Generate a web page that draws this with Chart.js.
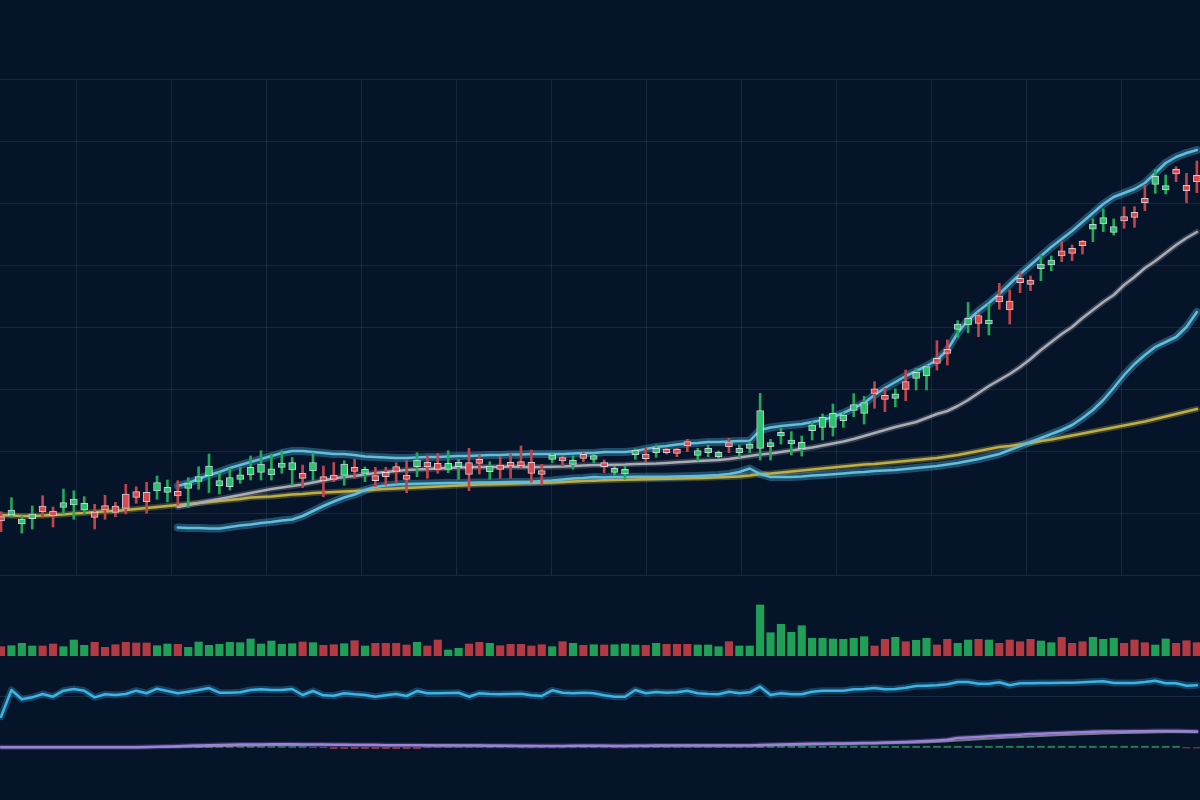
<!DOCTYPE html>
<html><head><meta charset="utf-8">
<script src="https://cdn.jsdelivr.net/npm/chart.js@4/dist/chart.umd.min.js"></script>
<style>html,body{margin:0;padding:0;background:#061429;}canvas{display:block;}</style>
</head><body>
<canvas id="c" width="1200" height="800"></canvas>
<script>
// ---------- DATA ----------
const openP = [
28.33,28.50,27.60,28.13,29.40,28.90,29.27,29.50,29.00,28.80,
29.43,29.40,30.60,30.83,30.77,30.90,30.77,30.87,31.15,31.85,
32.43,31.43,31.33,32.07,32.50,32.77,32.50,33.27,33.00,32.67,
32.90,32.33,32.50,32.47,33.27,32.67,32.43,32.77,33.33,32.50,
33.33,33.77,33.67,33.07,33.33,33.73,34.07,32.83,33.50,33.77,
33.83,33.77,32.93,34.07,34.23,33.57,34.57,34.07,33.73,32.77,
32.60,34.53,34.60,34.73,35.07,35.07,35.83,34.47,34.73,34.33,
35.73,34.73,35.17,35.17,35.33,36.40,35.60,35.10,36.93,37.27,
37.27,37.93,38.97,38.67,41.12,40.47,40.17,41.83,42.17,42.40,
44.17,45.07,47.07,47.50,48.45,47.60,50.40,49.90,52.17,52.00,
53.13,53.50,54.92,55.17,55.90,57.08,57.60,56.77,58.33,58.77,
60.17,61.57,61.00,63.07,61.47,62.47];
const highP = [
28.83,30.23,28.40,29.40,30.43,29.30,31.10,30.93,30.33,29.57,
30.47,29.77,31.57,31.33,31.77,32.40,32.00,31.93,32.23,33.33,
34.60,32.73,33.17,33.27,34.40,34.93,34.60,34.93,34.25,33.50,
34.75,33.40,33.75,33.93,34.07,33.30,33.27,33.27,33.73,33.93,
34.73,34.40,34.67,34.93,34.07,35.17,34.50,33.83,34.33,34.60,
35.40,35.00,33.57,34.73,34.40,34.40,34.73,34.60,34.00,33.40,
33.40,35.13,35.17,35.50,35.17,35.17,36.07,35.17,35.50,34.90,
36.17,35.50,35.83,40.67,36.07,37.17,36.83,36.40,37.83,38.60,
39.60,38.73,40.63,40.37,41.83,41.17,41.12,43.00,43.17,43.50,
45.93,46.00,47.93,49.75,48.73,49.60,51.67,51.00,52.83,52.40,
54.50,54.40,55.83,55.50,55.95,58.13,59.10,58.10,59.33,59.33,
61.50,63.03,62.50,63.33,62.67,63.90];
const lowP = [
26.83,28.27,26.70,27.10,28.27,27.30,28.60,28.07,28.60,27.10,
28.07,28.33,28.60,29.67,28.67,30.07,29.80,29.47,29.27,31.07,
30.75,30.60,31.00,31.67,32.00,32.00,32.00,32.67,31.48,31.24,
31.97,30.33,31.83,31.47,32.17,31.83,31.33,31.50,31.67,30.73,
32.33,32.17,32.67,32.73,32.07,30.93,32.60,32.07,32.17,32.17,
33.17,31.77,31.50,33.73,33.40,33.07,33.83,33.73,32.73,32.50,
32.07,34.07,33.83,34.27,34.60,34.33,34.83,33.93,34.33,34.17,
34.73,34.27,34.73,34.00,34.00,35.60,34.50,34.40,36.00,36.00,
36.40,37.27,38.33,37.60,39.17,38.83,39.33,39.93,41.00,41.00,
43.00,43.50,46.27,46.73,46.33,46.50,49.07,47.60,50.73,50.93,
51.93,52.93,53.83,53.93,54.60,55.83,56.83,56.50,57.17,57.27,
58.93,60.67,60.60,61.83,59.73,60.73];
const closeP = [
27.90,29.00,28.10,28.60,28.83,28.40,29.73,30.10,29.67,28.27,
29.00,28.77,29.17,30.27,29.83,31.73,31.27,30.40,31.63,32.33,
33.40,31.93,32.23,32.52,33.27,33.60,33.12,33.70,33.73,32.17,
33.75,31.92,32.07,33.58,32.87,33.07,31.93,32.33,32.87,32.07,
34.00,33.33,33.07,33.67,33.77,32.57,33.67,33.40,33.07,33.40,
33.43,32.67,32.57,34.50,33.90,34.00,34.17,34.43,33.33,33.17,
33.07,35.00,34.13,35.17,34.73,34.67,35.40,34.93,35.17,34.77,
35.33,35.17,35.60,38.93,35.73,36.77,36.00,35.77,37.50,38.27,
38.67,38.50,39.55,39.75,40.67,40.07,40.62,41.07,42.77,43.33,
43.67,44.67,47.60,48.17,47.67,48.00,49.80,49.00,51.73,51.57,
53.60,54.00,54.42,54.67,55.43,57.57,58.23,57.33,57.90,58.27,
59.73,62.37,61.43,62.60,60.93,61.83];

const bbUpper = [
null,null,null,null,null,null,null,null,null,null,null,null,null,null,null,null,null,
31.4,31.7,32.1,32.5,32.8,33.2,33.5,33.8,34.1,34.4,34.7,34.9,34.9,34.8,34.7,34.6,34.6,34.5,34.35,34.3,
34.25,34.2,34.2,34.25,34.3,34.3,34.35,34.4,34.4,34.45,34.5,34.5,34.55,34.55,34.6,34.6,34.6,34.6,34.65,34.7,
34.7,34.8,34.8,34.8,34.9,35.1,35.3,35.4,35.55,35.65,35.7,35.8,35.8,35.85,35.9,35.9,
37.0,37.25,37.4,37.5,37.6,37.8,38.0,38.3,38.7,39.2,39.7,40.5,41.2,41.8,42.4,42.9,43.4,44.0,45.0,
46.7,48.0,48.9,49.7,50.6,51.6,52.6,53.5,54.4,55.3,56.1,56.9,57.8,58.7,59.6,60.3,60.7,61.1,61.7,
62.7,63.7,64.3,64.7,65.0];
const bbMiddle = [
null,null,null,null,null,null,null,null,null,null,null,null,null,null,null,null,null,
29.3,29.5,29.7,29.9,30.1,30.3,30.5,30.7,30.9,31.1,31.25,31.4,31.55,31.75,31.95,32.15,32.3,32.4,32.55,32.7,
32.8,32.9,33.0,33.05,33.1,33.15,33.2,33.25,33.27,33.3,33.3,33.33,33.33,33.3,33.3,33.3,33.33,33.35,33.4,33.45,
33.5,33.5,33.53,33.55,33.6,33.63,33.65,33.7,33.77,33.83,33.9,33.95,34.0,34.1,34.25,
34.4,34.55,34.65,34.8,34.95,35.1,35.25,35.45,35.65,35.85,36.1,36.4,36.7,37.0,37.3,
37.55,37.8,38.2,38.6,38.9,39.4,40.0,40.7,41.4,42.0,42.6,43.3,44.1,45.0,45.8,
46.6,47.3,48.2,49.0,49.8,50.5,51.5,52.3,53.2,53.9,54.7,55.5,56.2,56.8];
const bbLower = [
null,null,null,null,null,null,null,null,null,null,null,null,null,null,null,null,null,
27.25,27.2,27.2,27.15,27.15,27.3,27.45,27.55,27.7,27.8,27.95,28.05,28.4,28.9,29.4,29.85,30.25,30.55,31.0,31.3,
31.45,31.55,31.6,31.63,31.65,31.67,31.7,31.7,31.73,31.75,31.75,31.77,31.8,31.8,31.83,31.9,31.95,32.05,32.15,32.2,
32.3,32.25,32.3,32.3,32.33,32.33,32.33,32.33,32.35,32.37,32.4,32.45,32.5,32.6,32.8,
33.15,32.6,32.3,32.3,32.3,32.35,32.45,32.5,32.57,32.65,32.75,32.8,32.9,32.95,33.0,
33.1,33.2,33.3,33.4,33.55,33.7,33.9,34.1,34.35,34.6,35.0,35.4,35.8,36.2,36.6,
37.0,37.5,38.2,39.0,40.0,41.2,42.5,43.6,44.5,45.3,45.8,46.3,47.3,48.8];
const maLong = [
28.5,28.45,28.4,28.4,28.45,28.5,28.55,28.65,28.7,28.8,
28.85,28.9,29.0,29.1,29.2,29.3,29.4,29.5,29.6,29.7,
29.8,29.9,30.0,30.1,30.25,30.3,30.35,30.45,30.55,30.6,
30.7,30.75,30.8,30.85,30.9,30.95,31.05,31.1,31.15,31.2,
31.25,31.3,31.35,31.4,31.45,31.5,31.55,31.57,31.6,31.63,
31.67,31.7,31.72,31.75,31.8,31.85,31.9,31.93,31.97,32.0,
32.03,32.05,32.08,32.1,32.13,32.15,32.18,32.2,32.23,32.27,
32.3,32.35,32.45,32.6,32.65,32.75,32.85,32.95,33.05,33.15,
33.25,33.35,33.45,33.55,33.6,33.7,33.8,33.9,34.0,34.1,
34.2,34.35,34.5,34.7,34.9,35.1,35.3,35.4,35.55,35.7,
35.9,36.05,36.25,36.45,36.65,36.85,37.05,37.25,37.45,37.65,
37.85,38.1,38.35,38.6,38.85,39.1];

const volume = [
180,200,248,194,194,234,180,314,208,268,
168,220,268,254,254,200,234,228,168,274,
208,228,268,260,334,234,294,228,240,274,
260,208,220,240,300,194,248,248,248,214,
268,194,314,114,148,234,268,248,200,228,
228,194,220,180,280,248,208,220,214,220,
234,214,208,248,228,228,228,214,214,180,
280,194,194,1014,460,628,468,600,348,348,
334,328,348,380,194,328,368,280,308,348,
214,328,248,314,328,314,248,314,280,328,
294,260,368,248,280,368,328,348,248,314,
260,214,334,248,300,260];

const rsi = [
20.4,58.6,45.3,48.1,52.9,49.0,57.6,60.0,57.6,48.1,
52.4,51.4,52.9,57.6,53.9,60.4,57.1,53.9,56.1,58.6,
61.4,54.7,54.7,55.3,58.6,59.6,58.6,58.6,60.0,51.4,
57.1,51.0,50.4,53.9,52.4,51.4,49.0,51.0,52.9,50.0,
57.1,53.9,53.9,54.3,54.7,49.0,53.9,52.9,52.4,52.9,
53.3,51.0,50.0,58.1,54.7,53.9,54.7,53.9,51.0,49.0,
49.0,58.6,53.9,55.7,54.7,55.3,57.6,53.9,52.9,52.4,
56.1,53.9,55.3,63.3,51.4,53.9,52.4,52.4,56.1,57.6,
57.6,57.6,59.6,60.0,61.4,59.6,60.0,61.9,64.3,64.7,
65.3,66.7,70.0,70.0,67.6,67.6,69.6,65.3,68.1,68.1,
68.6,68.6,69.0,69.0,69.6,70.4,71.0,68.6,68.6,68.6,
70.0,71.9,68.1,68.1,64.7,65.3];
const rsiMidline = [50];

const macd = [
0.02,0.02,0.02,0.02,0.02,0.02,0.02,0.02,0.02,0.02,
0.02,0.02,0.02,0.03,0.05,0.07,0.10,0.13,0.17,0.20,
0.23,0.25,0.27,0.29,0.30,0.31,0.32,0.32,0.32,0.31,
0.30,0.29,0.28,0.27,0.26,0.25,0.24,0.23,0.23,0.22,
0.22,0.21,0.21,0.20,0.20,0.19,0.19,0.18,0.18,0.17,
0.16,0.15,0.14,0.15,0.16,0.17,0.18,0.18,0.17,0.16,
0.16,0.17,0.18,0.19,0.20,0.20,0.21,0.20,0.19,0.19,
0.20,0.20,0.21,0.25,0.27,0.29,0.32,0.35,0.37,0.38,
0.40,0.41,0.42,0.44,0.46,0.49,0.52,0.56,0.60,0.64,
0.70,0.78,0.95,1.00,1.05,1.12,1.18,1.23,1.28,1.34,
1.38,1.42,1.46,1.50,1.53,1.57,1.59,1.60,1.61,1.62,
1.63,1.64,1.65,1.64,1.62,1.59];
const macdSignal = [
0.02,0.02,0.02,0.02,0.02,0.02,0.02,0.02,0.02,0.02,
0.02,0.02,0.02,0.02,0.03,0.04,0.05,0.07,0.09,0.11,
0.13,0.15,0.17,0.19,0.21,0.22,0.24,0.25,0.26,0.27,
0.27,0.28,0.28,0.28,0.28,0.27,0.27,0.26,0.26,0.25,
0.25,0.24,0.23,0.22,0.21,0.21,0.20,0.20,0.19,0.18,
0.18,0.17,0.16,0.16,0.16,0.16,0.17,0.17,0.17,0.17,
0.17,0.17,0.17,0.18,0.18,0.19,0.19,0.20,0.20,0.19,
0.19,0.19,0.20,0.21,0.22,0.24,0.26,0.28,0.30,0.32,
0.34,0.36,0.37,0.39,0.40,0.42,0.44,0.47,0.50,0.53,
0.57,0.62,0.70,0.76,0.82,0.88,0.94,1.00,1.05,1.10,
1.15,1.20,1.24,1.28,1.32,1.36,1.40,1.43,1.46,1.48,
1.50,1.52,1.54,1.55,1.56,1.56];
const macdHist = [
0,0,0,0,0,0,0,0,0,0,
0,0,0,0,0,0,0,0,0,0.10,
0.10,0.10,0.10,0.10,0.10,0.10,0.10,0.10,0.10,0.10,
0.03,0.03,-0.12,-0.12,-0.12,-0.12,-0.12,-0.12,-0.12,-0.12,
-0.12,0,0,0,0,0,0,0,0,0,
0,0,0,0,0,0,0,0,0,0,
0,0,0,0,0,0,0,0,0,0,
0,0,0,0.13,0.13,0.13,0.13,0.13,0.13,0.13,
0.13,0.13,0.13,0.13,0.13,0.13,0.13,0.13,0.13,0.13,
0.13,0.13,0.13,0.13,0.13,0.13,0.13,0.13,0.13,0.13,
0.13,0.13,0.13,0.13,0.13,0.13,0.13,0.13,0.13,0.13,
0.13,0.13,0.13,0.13,-0.05,-0.05];

// grid positions (price levels and bar-index positions of the vertical grid)
const priceGrid = [22.5, 28.6875, 34.875, 41.0625, 47.25, 53.4375, 59.625, 65.8125, 72];
const timeGrid = [7.2, 16.35, 25.5, 34.6, 43.75, 52.9, 62.0, 71.15, 80.3, 89.4, 98.6, 107.75];

// ---------- STYLE / LAYOUT ----------
const H = 800;
function axisRange(v1, px1, v2, px2) {
  const k = (px2 - px1) / (v2 - v1);
  const a = v1 + (H - px1) / k, b = v1 + (0 - px1) / k;
  return { min: Math.min(a, b), max: Math.max(a, b) };
}
const volRange = axisRange(0, 655.7, 1000, 605.7);
const rsiRange = axisRange(50, 696, 100, 661);
const macdRange = axisRange(0, 747.5, 1, 737.5);

const gridColor = 'rgba(60,85,120,0.30)';
const UP_BODY = '#2bc46e', DN_BODY = '#dc4a50';
const UP_WICK = '#22a85b', DN_WICK = '#c2444b';
const UP_VOL = '#20a057', DN_VOL = '#b33a42';

const idx = openP.map((_, i) => i);
const isUp = idx.map(i => closeP[i] >= openP[i]);
const pts = arr => arr.map((v, i) => ({ x: i, y: v }));

function line(arr, axis, color, width, order) {
  return { type: 'line', data: pts(arr), yAxisID: axis, borderColor: color, borderWidth: width,
    pointRadius: 0, tension: 0, fill: false, order: order, spanGaps: false,
    borderJoinStyle: 'round', borderCapStyle: 'round' };
}

const datasets = [
  { type: 'bar', data: idx.map(i => ({ x: i, y: [openP[i], closeP[i]] })), yAxisID: 'yP',
    backgroundColor: idx.map(i => isUp[i] ? UP_BODY : DN_BODY),
    borderColor: 'rgba(232,232,238,0.85)', borderWidth: 1, borderSkipped: false,
    barThickness: 7, grouped: false, order: 0 },
  { type: 'bar', data: idx.map(i => ({ x: i, y: [lowP[i], highP[i]] })), yAxisID: 'yP',
    backgroundColor: idx.map(i => isUp[i] ? UP_WICK : DN_WICK),
    borderWidth: 0, barThickness: 2, grouped: false, order: 1 },
  line(bbUpper, 'yP', '#63bddb', 2.5, 2),
  line(bbUpper, 'yP', 'rgba(70,165,205,0.40)', 8, 5),
  line(bbLower, 'yP', '#63bddb', 2.5, 2),
  line(bbLower, 'yP', 'rgba(70,165,205,0.40)', 8, 5),
  line(bbMiddle, 'yP', '#aaacb4', 2.5, 3),
  line(bbMiddle, 'yP', 'rgba(170,172,182,0.25)', 6, 6),
  line(maLong, 'yP', '#bfae48', 2.5, 4),
  line(maLong, 'yP', 'rgba(190,175,70,0.30)', 6, 7),
  { type: 'bar', data: pts(volume), yAxisID: 'yV',
    backgroundColor: idx.map(i => isUp[i] ? UP_VOL : DN_VOL),
    borderWidth: 0, barThickness: 7.5, grouped: false, order: 8 },
  line(rsi, 'yR', '#3db5e2', 2.5, 2),
  line(rsi, 'yR', 'rgba(50,150,205,0.35)', 7, 5),
  { type: 'bar', data: pts(macdHist), yAxisID: 'yM',
    backgroundColor: macdHist.map(v => v >= 0 ? 'rgba(46,160,100,0.75)' : 'rgba(190,70,80,0.70)'),
    borderWidth: 0, barThickness: 7, grouped: false, order: 9 },
  line(macdSignal, 'yM', 'rgba(150,150,165,0.75)', 2, 4),
  line(macd, 'yM', '#9a82d6', 2.5, 2),
  line(macd, 'yM', 'rgba(150,120,210,0.30)', 5, 5)
];

const vGrid = {
  id: 'vGrid',
  beforeDatasetsDraw(chart) {
    const { ctx, scales } = chart;
    const top = Math.round(scales.yP.getPixelForValue(priceGrid[priceGrid.length - 1]));
    const bot = Math.round(scales.yP.getPixelForValue(priceGrid[0]));
    ctx.save();
    ctx.strokeStyle = gridColor;
    ctx.lineWidth = 1;
    timeGrid.forEach(v => {
      const px = Math.round(scales.x.getPixelForValue(v)) + 0.5;
      ctx.beginPath(); ctx.moveTo(px, top); ctx.lineTo(px, bot); ctx.stroke();
    });
    ctx.restore();
  }
};

new Chart(document.getElementById('c'), {
  type: 'bar',
  data: { datasets },
  options: {
    responsive: false, animation: false, devicePixelRatio: 1,
    layout: { padding: 0 },
    plugins: { legend: { display: false }, tooltip: { enabled: false } },
    scales: {
      x: { type: 'linear', min: -0.1, max: 115.3, offset: false, display: false, grid: { offset: false } },
      yP: { type: 'linear', position: 'left', min: 0, max: 80,
        grid: { color: gridColor, drawTicks: false, lineWidth: 1 },
        border: { display: false }, ticks: { display: false },
        afterBuildTicks: s => { s.ticks = priceGrid.map(v => ({ value: v })); } },
      yV: { type: 'linear', position: 'left', min: volRange.min, max: volRange.max, display: false },
      yR: { type: 'linear', position: 'left', min: rsiRange.min, max: rsiRange.max,
        grid: { color: 'rgba(60,85,120,0.35)', drawTicks: false },
        border: { display: false }, ticks: { display: false },
        afterBuildTicks: s => { s.ticks = rsiMidline.map(v => ({ value: v })); } },
      yM: { type: 'linear', position: 'left', min: macdRange.min, max: macdRange.max, display: false }
    }
  },
  plugins: [vGrid]
});
</script>
</body></html>
